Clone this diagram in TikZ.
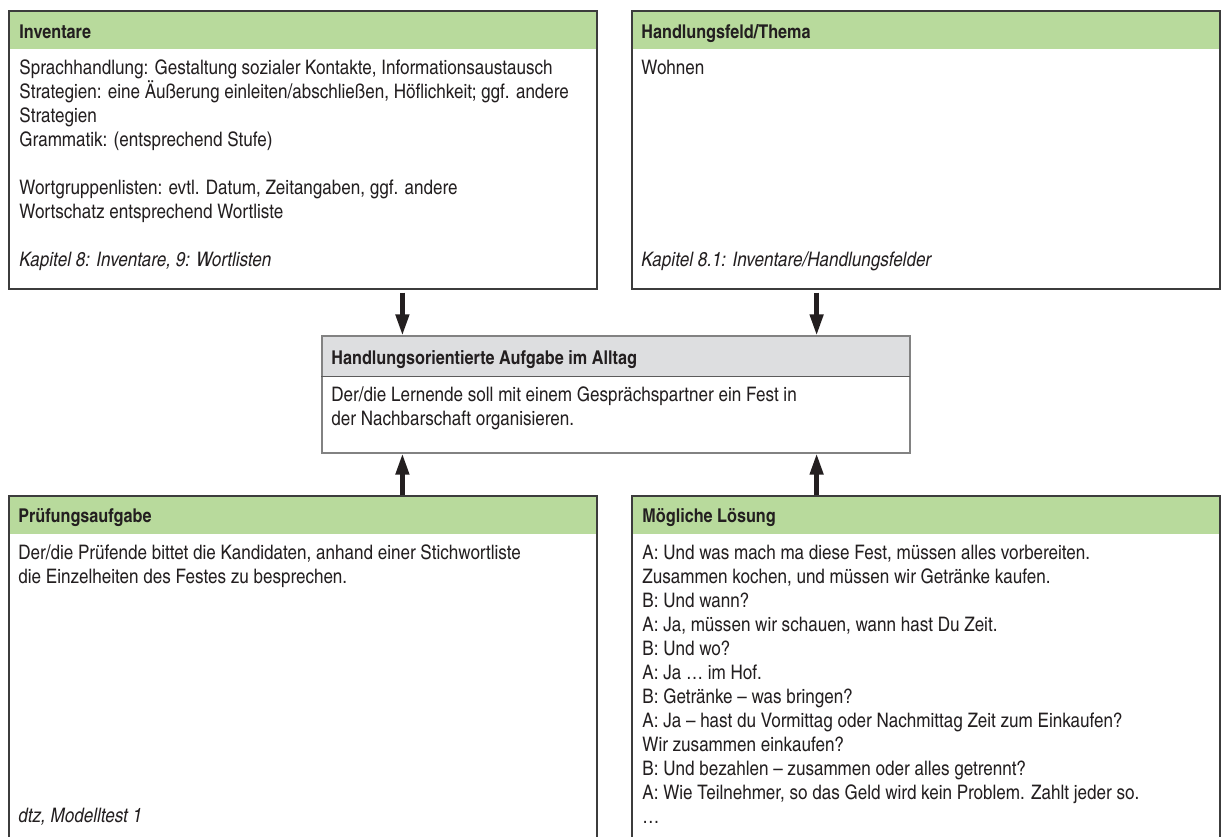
\documentclass[tikz,border=0pt]{standalone}
\usepackage{fontspec}
\setmainfont[FakeStretch=1.04]{TeX Gyre Heros Cn}
\usetikzlibrary{arrows.meta,positioning,backgrounds}

\definecolor{headgreen}{RGB}{184,218,156}
\definecolor{headgray}{RGB}{221,222,224}
\definecolor{frameline}{RGB}{60,60,60}
\definecolor{softline}{RGB}{130,130,130}
\definecolor{inkblack}{RGB}{35,31,32}

\begin{document}
\begin{tikzpicture}[
            x=0.5pt, y=-0.5pt,
            box/.style={
                rectangle,
                draw=frameline,
                line width=0.6pt,
                minimum width=294pt,
                inner sep=0pt
            },
            head/.style={
                rectangle,
                fill=headgreen,
                minimum width=294pt,
                minimum height=19pt,
                inner sep=0pt,
                anchor=north west
            },
            title/.style={
                anchor=base west,
                inner sep=0pt,
                text=inkblack,
                font=\bfseries\fontsize{9.5}{12}\selectfont
            },
            item/.style={
                anchor=north west,
                inner sep=0pt,
                align=left,
                text=inkblack,
                font=\fontsize{10}{12}\selectfont
            },
            source/.style={
                item,
                anchor=base west,
                font=\itshape\fontsize{10}{12}\selectfont
            },
            arrow/.style={-{Triangle[length=10.5pt,width=6.5pt]}, line width=2.2pt, inkblack}
        ]
        \useasboundingbox (0,0) rectangle (1224,836);
        \clip (0,0) rectangle (1224,836);

        % Outer boxes, the lower two run past the page edge
        \node[box, minimum height=139pt] (box1) at (303,150) {};
        \node[box, minimum height=139pt] (box2) at (926,150) {};
        \node[box, draw=softline, minimum height=58.5pt] (box3) at (616,394.5) {};
        \node[box, minimum height=180pt] (box4) at (303,676) {};
        \node[box, minimum height=180pt] (box5) at (926,676) {};

        % Header bands behind the frames
        \begin{scope}[on background layer]
            \node[head] (h1) at (box1.north west) {};
            \node[head] (h2) at (box2.north west) {};
            \node[head, fill=headgray, minimum height=20pt] (h3) at (box3.north west) {};
            \node[head] (h4) at (box4.north west) {};
            \node[head] (h5) at (box5.north west) {};
        \end{scope}
        \draw[softline!70!black, line width=0.7pt] (h3.south west) -- (h3.south east);

        % Box titles
        \node[title] (t1) at (19,38) {Inventare};
        \node[title] (t2) at (641,38) {Handlungsfeld/Thema};
        \node[title] (t3) at (331,364) {Handlungsorientierte Aufgabe im Alltag};
        \node[title] (t4) at (18,522) {Prüfungsaufgabe};
        \node[title] (t5) at (642,522) {Mögliche Lösung};

        % Connecting arrows
        \coordinate (inL) at ([xshift=40.5pt]box3.north west);
        \coordinate (inR) at ([xshift=-47pt]box3.north east);
        \coordinate (outL) at ([xshift=40.5pt]box3.south west);
        \coordinate (outR) at ([xshift=-47pt]box3.south east);
        \draw[arrow, shorten <=1.5pt] (box1.south -| inL) -- (inL);
        \draw[arrow, shorten <=1.5pt] (box2.south -| inR) -- (inR);
        \draw[arrow] (box4.north -| outL) -- (outL);
        \draw[arrow] (box5.north -| outR) -- (outR);

        % Items for box 1
        \node[item] (b1) at (19,59.5) {Sprachhandlung: Gestaltung sozialer Kontakte, Informationsaustausch\\
            Strategien: eine Äußerung einleiten/abschließen, Höflichkeit; ggf. andere\\
            Strategien\\
            Grammatik: (entsprechend Stufe)\\[12pt]
            Wortgruppenlisten: evtl. Datum, Zeitangaben, ggf. andere\\
            Wortschatz entsprechend Wortliste};
        \node[source] (s1) at (19,266) {Kapitel 8: Inventare, 9: Wortlisten};

        % Items for box 2
        \node[item] (b2) at (641,59.5) {Wohnen};
        \node[source] (s2) at (641,266) {Kapitel 8.1: Inventare/Handlungsfelder};

        % Items for box 3
        \node[item] (b3) at (331,386.5) {Der/die Lernende soll mit einem Gesprächspartner ein Fest in\\
            der Nachbarschaft organisieren.};

        % Items for box 4
        \node[item] (b4) at (18,544.5) {Der/die Prüfende bittet die Kandidaten, anhand einer Stichwortliste\\
            die Einzelheiten des Festes zu besprechen.};
        \node[source] (s4) at (18,822) {dtz, Modelltest 1};

        % Items for box 5
        \node[item] (b5) at (642,544.5) {A: Und was mach ma diese Fest, müssen alles vorbereiten.\\
            Zusammen kochen, und müssen wir Getränke kaufen.\\
            B: Und wann?\\
            A: Ja, müssen wir schauen, wann hast Du Zeit.\\
            B: Und wo?\\
            A: Ja … im Hof.\\
            B: Getränke – was bringen?\\
            A: Ja – hast du Vormittag oder Nachmittag Zeit zum Einkaufen?\\
            Wir zusammen einkaufen?\\
            B: Und bezahlen – zusammen oder alles getrennt?\\
            A: Wie Teilnehmer, so das Geld wird kein Problem. Zahlt jeder so.\\
            …};

\end{tikzpicture}
\end{document}
